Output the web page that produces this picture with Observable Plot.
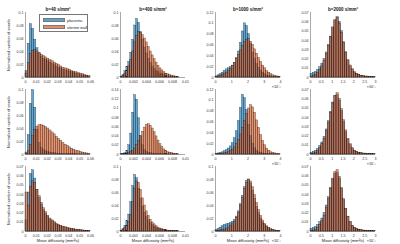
<!DOCTYPE html>
<html><head><meta charset="utf-8">
<script src="https://cdn.jsdelivr.net/npm/d3@7"></script>
<script src="https://cdn.jsdelivr.net/npm/@observablehq/plot@0.6"></script>
<style>
body{margin:0;background:#fff}
#fig{position:relative;width:400px;height:244px;overflow:hidden;font-family:"Liberation Sans",Arial,sans-serif}
#fig .p{position:absolute}
#legend{position:absolute;left:39px;top:14px;width:47px;height:16px;border:0.5px solid #777;background:#fff;font-size:4px;color:#222;white-space:nowrap}
#legend .sw{position:absolute;left:3px;width:22px;height:4px;border:0.3px solid #333;box-sizing:border-box}
#legend .lb{position:absolute;left:27px;line-height:5px}
</style></head>
<body><div id="fig"></div>
<script>
// ---- labels ----
const titles = ["b=40 s/mm²", "b=400 s/mm²", "b=1000 s/mm²", "b=2000 s/mm²"];
const seriesNames = ["placenta", "uterine wall"];
const yLabel = "Normalised number of voxels";
const xLabel = "Mean diffusivity (mm²/s)";
const expLabel = "×10⁻³";

// ---- bins per column (col 3, 4 in units of 10^-3) ----
const binWidth = [0.002, 0.0003, 0.125, 0.1];
const xMax = [0.06, 0.01, 4, 3];
const xTicks = [
  [0, 0.01, 0.02, 0.03, 0.04, 0.05, 0.06],
  [0, 0.002, 0.004, 0.006, 0.008, 0.01],
  [0, 1, 2, 3, 4],
  [0, 0.5, 1, 1.5, 2, 2.5, 3]
];
const yTicks = [
  [[0,0.02,0.04,0.06,0.08,0.1],[0,0.02,0.04,0.06,0.08,0.1],[0,0.02,0.04,0.06,0.08,0.1,0.12],[0,0.01,0.02,0.03,0.04,0.05,0.06,0.07]],
  [[0,0.02,0.04,0.06,0.08,0.1],[0,0.02,0.04,0.06,0.08,0.1,0.12,0.14],[0,0.02,0.04,0.06,0.08,0.1,0.12],[0,0.01,0.02,0.03,0.04,0.05,0.06,0.07]],
  [[0,0.01,0.02,0.03,0.04,0.05,0.06,0.07],[0,0.02,0.04,0.06,0.08,0.1],[0,0.02,0.04,0.06,0.08,0.1],[0,0.01,0.02,0.03,0.04,0.05,0.06,0.07]]
];

// ---- row 1 ----
const r1c1_placenta = [0.010,0.052,0.082,0.075,0.058,0.045,0.037,0.032,0.029,0.027,0.025,0.023,0.021,0.019,0.017,0.015,0.014,0.012,0.011,0.010,0.009,0.008,0.007,0.006,0.005,0.004,0.003,0.0025,0.002,0.0015];
const r1c1_uterine  = [0.006,0.022,0.036,0.041,0.042,0.040,0.038,0.035,0.033,0.031,0.029,0.027,0.025,0.023,0.021,0.019,0.017,0.015,0.014,0.013,0.012,0.010,0.009,0.008,0.007,0.006,0.005,0.004,0.003,0.002];
const r1c2_placenta = [0.001,0.004,0.010,0.016,0.024,0.038,0.058,0.080,0.090,0.084,0.070,0.058,0.046,0.037,0.029,0.022,0.017,0.013,0.010,0.008,0.006,0.005,0.004,0.003,0.002,0.0015,0.001,0.001,0.0005,0.0005];
const r1c2_uterine  = [0.0005,0.002,0.005,0.010,0.017,0.027,0.040,0.054,0.064,0.070,0.069,0.065,0.060,0.054,0.047,0.040,0.034,0.028,0.023,0.018,0.014,0.011,0.008,0.006,0.005,0.004,0.003,0.002,0.0015,0.001];
const r1c3_placenta = [0.002,0.004,0.006,0.009,0.012,0.015,0.017,0.019,0.022,0.027,0.036,0.048,0.064,0.085,0.100,0.095,0.080,0.062,0.046,0.034,0.025,0.018,0.013,0.009,0.006,0.004,0.003,0.002,0.0015,0.001,0.0005,0.0005];
const r1c3_uterine  = [0.001,0.002,0.003,0.005,0.007,0.009,0.012,0.016,0.021,0.027,0.034,0.042,0.050,0.058,0.065,0.070,0.071,0.066,0.060,0.052,0.044,0.036,0.029,0.022,0.017,0.012,0.009,0.006,0.004,0.003,0.002,0.001];
const r1c4_placenta = [0.004,0.005,0.006,0.008,0.011,0.015,0.020,0.027,0.035,0.044,0.053,0.061,0.065,0.060,0.050,0.038,0.027,0.018,0.012,0.008,0.005,0.004,0.003,0.002,0.0015,0.001,0.001,0.0005,0.0005,0.0003];
const r1c4_uterine  = [0.001,0.002,0.003,0.005,0.008,0.012,0.018,0.025,0.034,0.044,0.054,0.062,0.064,0.058,0.048,0.037,0.027,0.019,0.013,0.009,0.006,0.004,0.003,0.002,0.0015,0.001,0.001,0.0005,0.0005,0.0003];

// ---- row 2 ----
const r2c1_placenta = [0.003,0.030,0.078,0.099,0.072,0.038,0.018,0.010,0.007,0.005,0.004,0.003,0.0025,0.002,0.0015,0.001,0.001,0.001,0.0008,0.0006,0.0005,0.0004,0.0003,0.0003,0.0002,0.0002,0.0001,0.0001,0.0001,0.0001];
const r2c1_uterine  = [0.001,0.005,0.015,0.028,0.038,0.043,0.045,0.045,0.044,0.042,0.040,0.037,0.034,0.031,0.027,0.024,0.021,0.018,0.015,0.013,0.011,0.009,0.0075,0.006,0.005,0.004,0.003,0.0022,0.0016,0.001];
const r2c2_placenta = [0.0005,0.001,0.003,0.008,0.020,0.045,0.090,0.128,0.118,0.078,0.040,0.020,0.010,0.006,0.004,0.003,0.002,0.0015,0.001,0.001,0.0008,0.0006,0.0005,0.0004,0.0003,0.0003,0.0002,0.0002,0.0001,0.0001];
const r2c2_uterine  = [0.0003,0.0006,0.001,0.002,0.003,0.005,0.008,0.013,0.020,0.029,0.039,0.049,0.058,0.064,0.065,0.062,0.056,0.048,0.039,0.030,0.022,0.016,0.011,0.008,0.005,0.004,0.003,0.002,0.001,0.0005];
const r2c3_placenta = [0.001,0.002,0.003,0.004,0.006,0.008,0.011,0.015,0.021,0.030,0.043,0.062,0.086,0.110,0.104,0.082,0.055,0.034,0.020,0.012,0.007,0.004,0.003,0.002,0.0015,0.001,0.001,0.0005,0.0005,0.0003,0.0002,0.0001];
const r2c3_uterine  = [0.0003,0.0005,0.001,0.0015,0.002,0.003,0.004,0.006,0.009,0.013,0.019,0.027,0.037,0.049,0.062,0.075,0.085,0.091,0.087,0.077,0.063,0.049,0.036,0.025,0.017,0.011,0.007,0.004,0.003,0.002,0.001,0.0005];
const r2c4_placenta = [0.002,0.003,0.004,0.006,0.009,0.013,0.019,0.027,0.036,0.046,0.056,0.063,0.064,0.058,0.047,0.035,0.024,0.016,0.010,0.006,0.004,0.003,0.002,0.0015,0.001,0.001,0.0005,0.0005,0.0003,0.0002];
const r2c4_uterine  = [0.0005,0.001,0.002,0.004,0.007,0.011,0.017,0.025,0.034,0.045,0.055,0.063,0.066,0.060,0.049,0.037,0.026,0.017,0.011,0.007,0.004,0.003,0.002,0.0015,0.001,0.0008,0.0005,0.0004,0.0003,0.0002];

// ---- row 3 ----
const r3c1_placenta = [0.012,0.042,0.062,0.066,0.057,0.045,0.036,0.029,0.023,0.019,0.016,0.013,0.011,0.009,0.0075,0.0065,0.0055,0.0047,0.004,0.0034,0.0029,0.0025,0.0021,0.0018,0.0015,0.0012,0.001,0.0008,0.0006,0.0005];
const r3c1_uterine  = [0.042,0.028,0.048,0.054,0.052,0.045,0.038,0.031,0.025,0.021,0.017,0.014,0.012,0.010,0.0085,0.0072,0.0062,0.0053,0.0046,0.004,0.0034,0.0029,0.0025,0.0021,0.0018,0.0015,0.0012,0.001,0.0008,0.0006];
const r3c2_placenta = [0.001,0.004,0.009,0.016,0.026,0.045,0.070,0.087,0.082,0.066,0.050,0.038,0.029,0.022,0.017,0.013,0.010,0.0075,0.0056,0.0042,0.0032,0.0025,0.0019,0.0015,0.0012,0.001,0.0008,0.0006,0.0004,0.0003];
const r3c2_uterine  = [0.0005,0.002,0.005,0.009,0.015,0.026,0.045,0.066,0.077,0.075,0.064,0.051,0.040,0.031,0.024,0.018,0.014,0.011,0.008,0.006,0.0046,0.0035,0.0027,0.002,0.0015,0.0012,0.0009,0.0007,0.0005,0.0003];
const r3c3_placenta = [0.002,0.004,0.006,0.008,0.010,0.011,0.012,0.013,0.015,0.018,0.023,0.031,0.042,0.055,0.068,0.078,0.080,0.074,0.063,0.050,0.038,0.028,0.020,0.014,0.010,0.007,0.005,0.003,0.002,0.0015,0.001,0.0005];
const r3c3_uterine  = [0.0005,0.001,0.0015,0.002,0.003,0.004,0.006,0.008,0.011,0.015,0.021,0.029,0.040,0.052,0.065,0.075,0.080,0.077,0.068,0.056,0.044,0.033,0.024,0.017,0.012,0.008,0.005,0.0035,0.0025,0.0015,0.001,0.0005];
const r3c4_placenta = [0.003,0.004,0.005,0.007,0.010,0.014,0.020,0.028,0.037,0.047,0.056,0.062,0.063,0.057,0.046,0.034,0.024,0.016,0.010,0.006,0.004,0.003,0.002,0.0015,0.001,0.001,0.0005,0.0005,0.0003,0.0002];
const r3c4_uterine  = [0.0005,0.001,0.002,0.004,0.007,0.011,0.017,0.025,0.035,0.046,0.057,0.064,0.066,0.059,0.047,0.035,0.024,0.016,0.010,0.006,0.004,0.003,0.002,0.0015,0.001,0.0008,0.0005,0.0004,0.0003,0.0002];

const grid = [
  [[r1c1_placenta, r1c1_uterine], [r1c2_placenta, r1c2_uterine], [r1c3_placenta, r1c3_uterine], [r1c4_placenta, r1c4_uterine]],
  [[r2c1_placenta, r2c1_uterine], [r2c2_placenta, r2c2_uterine], [r2c3_placenta, r2c3_uterine], [r2c4_placenta, r2c4_uterine]],
  [[r3c1_placenta, r3c1_uterine], [r3c2_placenta, r3c2_uterine], [r3c3_placenta, r3c3_uterine], [r3c4_placenta, r3c4_uterine]]
];

const colors = ["#0072BD", "#D95319"];
const colLeft = [25, 120, 215, 310];
const rowTop = [12, 89, 166];
const W = 65, H = 65;
const mL = 20, mR = 6, mT = 10, mB = 13;

const fig = document.getElementById("fig");
const fmt = d => String(+d.toFixed(6));

for (let r = 0; r < 3; r++) {
  for (let c = 0; c < 4; c++) {
    const [blue, orange] = grid[r][c];
    const toBins = arr => arr.map((v, i) => ({x1: i * binWidth[c], x2: (i + 1) * binWidth[c], y: v}));
    const marks = [];
    [blue, orange].forEach((arr, s) => {
      marks.push(Plot.rect(toBins(arr), {
        x1: "x1", x2: "x2", y1: 0, y2: "y",
        fill: colors[s], fillOpacity: 0.62,
        stroke: "#000", strokeWidth: 0.35, strokeOpacity: 0.75
      }));
    });
    marks.push(Plot.ruleY([0], {stroke: "#262626", strokeWidth: 0.4}));
    marks.push(Plot.ruleX([0], {stroke: "#262626", strokeWidth: 0.4}));
    marks.push(Plot.axisX({ticks: xTicks[c], tickFormat: fmt, tickSize: 0, tickPadding: 2.5, label: null}));
    marks.push(Plot.axisY({ticks: yTicks[r][c], tickFormat: fmt, tickSize: 0, tickPadding: 2, label: null}));
    if (r === 0) marks.push(Plot.text([titles[c]], {frameAnchor: "top", dy: -5, fontSize: 4.5, fontWeight: "bold", fill: "#111"}));
    if (c === 0) marks.push(Plot.text([yLabel], {frameAnchor: "left", dx: -17, rotate: -90, textAnchor: "middle", fontSize: 4, fill: "#222"}));
    if (c >= 2) marks.push(Plot.text([expLabel], {frameAnchor: "bottom-right", dy: 10, textAnchor: "end", fontSize: 3.8, fill: "#222"}));
    if (r === 2) marks.push(Plot.text([xLabel], {frameAnchor: "bottom", dy: 10, fontSize: 4, fill: "#222"}));

    const svg = Plot.plot({
      width: mL + W + mR, height: mT + H + mB,
      marginLeft: mL, marginRight: mR, marginTop: mT, marginBottom: mB,
      x: {domain: [0, xMax[c]]},
      y: {domain: [0, yTicks[r][c][yTicks[r][c].length - 1]]},
      style: {fontSize: "3.6px", fontFamily: "'Liberation Sans', Arial, sans-serif", color: "#333", background: "transparent", overflow: "visible"},
      marks
    });
    svg.classList.add("p");
    svg.style.left = (colLeft[c] - mL) + "px";
    svg.style.top = (rowTop[r] - mT) + "px";
    fig.appendChild(svg);
  }
}

// legend (panel row 1, col 1)
const lg = document.createElement("div");
lg.id = "legend";
seriesNames.forEach((name, s) => {
  const sw = document.createElement("div");
  sw.className = "sw";
  sw.style.top = (3 + s * 7.3) + "px";
  sw.style.background = colors[s];
  sw.style.opacity = "0.65";
  lg.appendChild(sw);
  const lb = document.createElement("div");
  lb.className = "lb";
  lb.style.top = (2.6 + s * 7.3) + "px";
  lb.textContent = name;
  lg.appendChild(lb);
});
fig.appendChild(lg);
</script>
</body></html>
